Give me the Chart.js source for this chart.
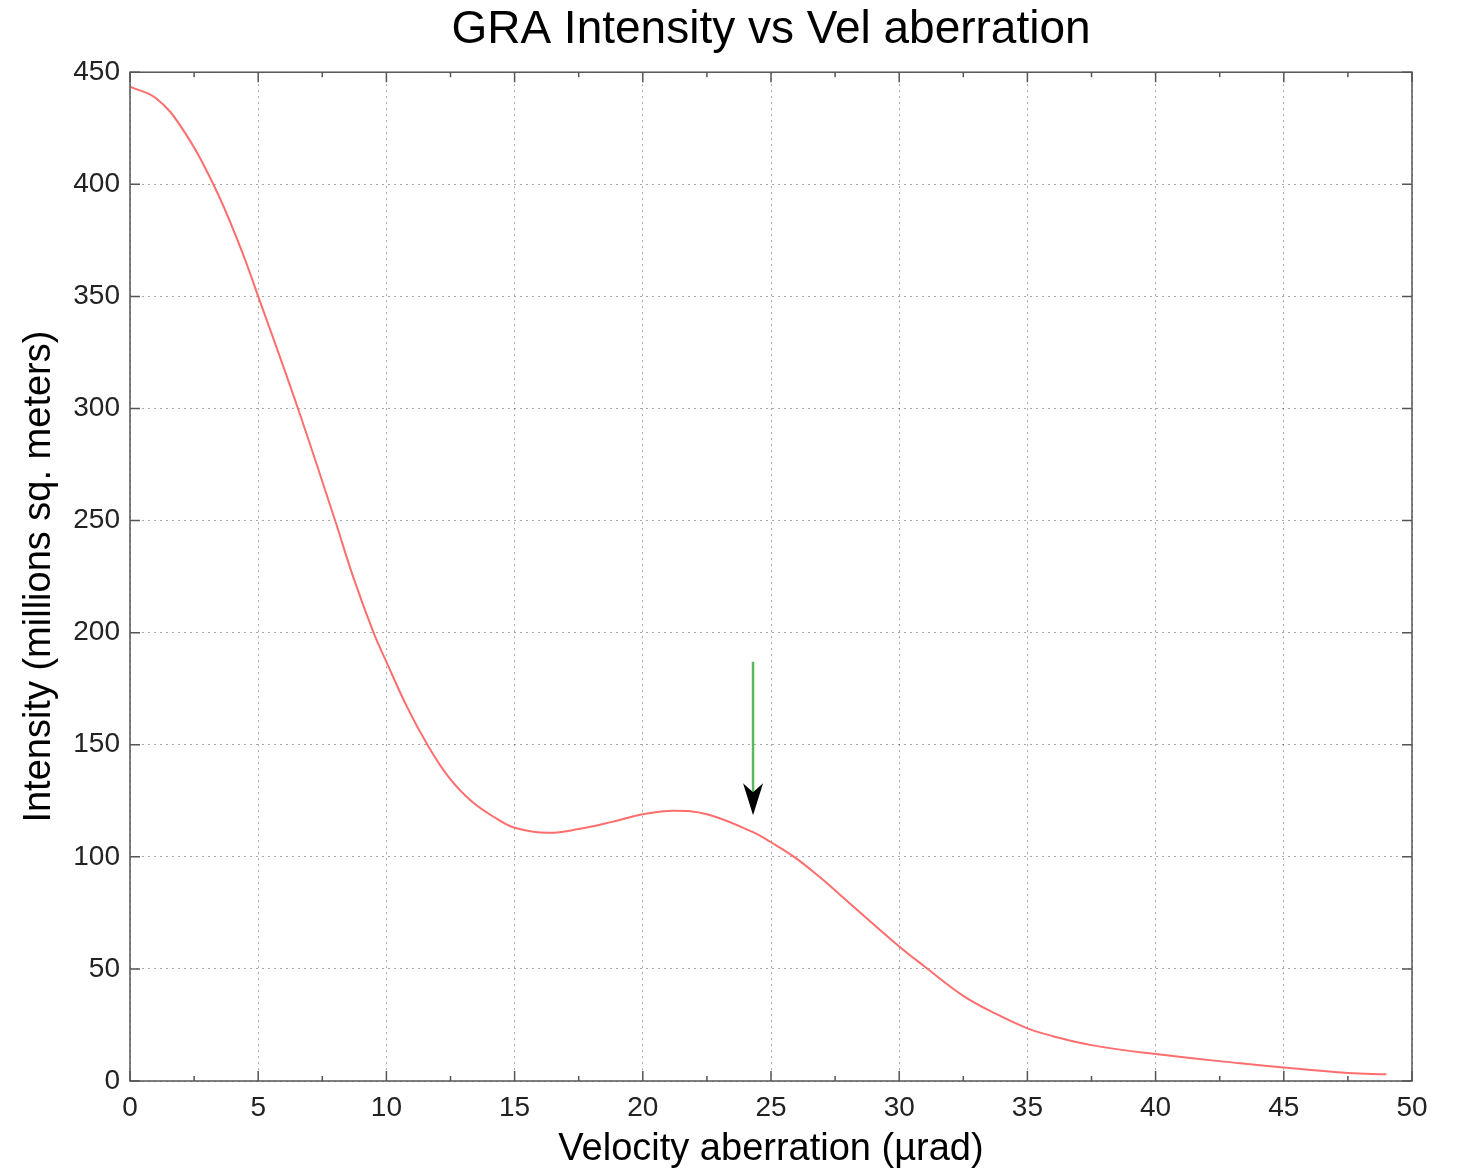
<!DOCTYPE html>
<html lang="en">
<head>
    <meta charset="UTF-8">
    <title>GRA Intensity vs Vel aberration</title>
    <script src="https://cdn.jsdelivr.net/npm/chart.js"></script>
    <style>
        body { margin: 0; background: #fff; }
        #wrap { width: 1457px; height: 1170px; }
    </style>
</head>
<body>
    <div id="wrap">
        <canvas id="myChart"></canvas>
    </div>

    <script>
        // velocity aberration (µrad) and intensity (millions sq. meters)
        const velAberration = [0, 1, 2, 3.25, 4.3, 5, 6.55, 8, 8.7, 9.5, 10, 10.8, 11.6, 12.4, 13.3, 14.3, 15, 16.3, 17.5, 18.8, 20, 21.2, 22.5, 24.3, 25, 25.9, 26.9, 27.7, 30, 31, 32.5, 33.8, 35, 36, 37.5, 40, 43.3, 45, 47.5, 49];
        const intensity = [443.5, 438.5, 425.5, 400, 372, 350, 300, 250, 225, 200, 187, 167, 150, 136, 125, 117, 113, 110.7, 112.4, 115.6, 119, 120.6, 119, 111, 106.5, 100, 91, 83, 60, 51, 38, 29.8, 23.5, 20, 16, 12, 7.9, 6, 3.6, 3];

        // the marker arrow (x position, from / to in intensity units)
        const arrowX = 24.3;
        const arrowFrom = 187;
        const arrowTo = 118.6;

        const xMajorTicks = [0, 5, 10, 15, 20, 25, 30, 35, 40, 45, 50];
        const xMinorTicks = [2.5, 7.5, 12.5, 17.5, 22.5, 27.5, 32.5, 37.5, 42.5, 47.5];
        const yMajorTicks = [0, 50, 100, 150, 200, 250, 300, 350, 400, 450];

        const fontFamily = "'Liberation Sans', Arial, sans-serif";

        // frame, inward tick marks and the arrow
        const framePlugin = {
            id: 'frame',
            afterDraw(chart) {
                const ctx = chart.ctx;
                const a = chart.chartArea;
                const xs = chart.scales.x, ys = chart.scales.y;
                ctx.save();
                ctx.strokeStyle = '#555';
                ctx.lineWidth = 1.5;
                ctx.strokeRect(a.left, a.top, a.right - a.left, a.bottom - a.top);

                ctx.beginPath();
                xMajorTicks.forEach(v => {
                    const p = xs.getPixelForValue(v);
                    ctx.moveTo(p, a.bottom); ctx.lineTo(p, a.bottom - 10);
                    ctx.moveTo(p, a.top); ctx.lineTo(p, a.top + 10);
                });
                xMinorTicks.forEach(v => {
                    const p = xs.getPixelForValue(v);
                    ctx.moveTo(p, a.bottom); ctx.lineTo(p, a.bottom - 5);
                    ctx.moveTo(p, a.top); ctx.lineTo(p, a.top + 5);
                });
                yMajorTicks.forEach(v => {
                    const p = ys.getPixelForValue(v);
                    ctx.moveTo(a.left, p); ctx.lineTo(a.left + 10, p);
                    ctx.moveTo(a.right, p); ctx.lineTo(a.right - 10, p);
                });
                ctx.stroke();

                // arrow
                const ax = xs.getPixelForValue(arrowX);
                const y0 = ys.getPixelForValue(arrowFrom);
                const tip = ys.getPixelForValue(arrowTo);
                ctx.strokeStyle = '#5cb85c';
                ctx.lineWidth = 2.5;
                ctx.beginPath();
                ctx.moveTo(ax, y0);
                ctx.lineTo(ax, tip - 22);
                ctx.stroke();
                ctx.fillStyle = '#000';
                ctx.beginPath();
                ctx.moveTo(ax, tip);
                ctx.lineTo(ax - 10, tip - 32);
                ctx.lineTo(ax, tip - 23);
                ctx.lineTo(ax + 10, tip - 32);
                ctx.closePath();
                ctx.fill();
                ctx.restore();
            }
        };

        const ctx = document.getElementById('myChart').getContext('2d');
        const chart = new Chart(ctx, {
            type: 'line',
            data: {
                datasets: [{
                    label: 'Intensity',
                    data: velAberration.map((x, i) => ({ x: x, y: intensity[i] })),
                    borderColor: '#ff6e6e',
                    borderWidth: 2,
                    pointRadius: 0,
                    fill: false,
                    tension: 0.4
                }]
            },
            options: {
                animation: false,
                responsive: true,
                maintainAspectRatio: false,
                layout: { padding: { left: 0, right: 45, top: 0, bottom: 0 } },
                plugins: {
                    legend: { display: false },
                    tooltip: { enabled: false },
                    title: {
                        display: true,
                        fullSize: false,
                        text: 'GRA Intensity vs Vel aberration',
                        color: '#000',
                        font: { family: fontFamily, size: 46, weight: 'normal', lineHeight: 1.2 },
                        padding: { top: 3, bottom: 14 }
                    }
                },
                scales: {
                    x: {
                        type: 'linear',
                        min: 0,
                        max: 50,
                        afterFit: s => { s.height = 89; },
                        ticks: {
                            stepSize: 5,
                            padding: 10,
                            color: '#222',
                            maxRotation: 0,
                            font: { family: fontFamily, size: 28 }
                        },
                        grid: {
                            color: 'rgba(0,0,0,0.35)',
                            lineWidth: 1,
                            drawTicks: false
                        },
                        border: { display: false, dash: [2, 4] },
                        title: {
                            display: true,
                            text: 'Velocity aberration (µrad)',
                            color: '#000',
                            font: { family: fontFamily, size: 38, lineHeight: 1 },
                            padding: { top: 0, bottom: 1 }
                        }
                    },
                    y: {
                        min: 0,
                        max: 450,
                        afterFit: s => { s.width = 130; },
                        ticks: {
                            stepSize: 50,
                            padding: 10,
                            color: '#222',
                            font: { family: fontFamily, size: 28 }
                        },
                        grid: {
                            color: 'rgba(0,0,0,0.35)',
                            lineWidth: 1,
                            drawTicks: false
                        },
                        border: { display: false, dash: [2, 4] },
                        title: {
                            display: true,
                            text: 'Intensity (millions sq. meters)',
                            color: '#000',
                            font: { family: fontFamily, size: 38, lineHeight: 1 },
                            padding: { top: 21, bottom: 0 }
                        }
                    }
                }
            },
            plugins: [framePlugin]
        });
    </script>
</body>
</html>
